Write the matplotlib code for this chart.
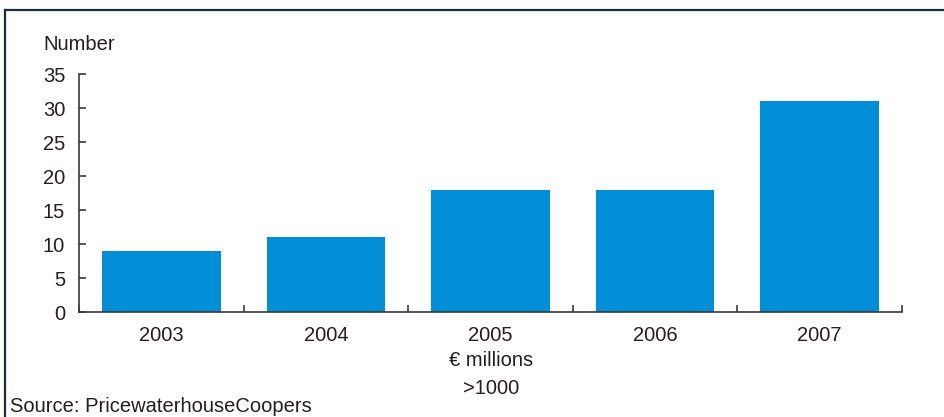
import matplotlib.pyplot as plt
from matplotlib.lines import Line2D
import numpy as np

# =========================
# DATA
# =========================
years = ["2003", "2004", "2005", "2006", "2007"]
deals = [9, 11, 18, 18, 31]
y_ticks = [0, 5, 10, 15, 20, 25, 30, 35]

# =========================
# STYLE
# =========================
plt.rcParams["font.family"] = ["Liberation Sans", "DejaVu Sans"]
text_col = "#231F20"
bar_col = "#008ED6"
axis_col = "#3A3A3A"
fs = 14.5

fig = plt.figure(figsize=(9.44, 4.17), dpi=100, facecolor="white")
ax = fig.add_axes([79 / 944, 1 - 312 / 417, (902 - 79) / 944, (312 - 74) / 417])

x = np.arange(len(years))
ax.bar(x, deals, width=0.72, color=bar_col, zorder=2)

ax.set_xlim(-0.5, len(years) - 0.5)
ax.set_ylim(0, 35)

# y axis
ax.set_yticks(y_ticks)
ax.tick_params(axis="y", direction="in", length=5, width=1.2, color=axis_col,
               labelsize=fs, labelcolor=text_col, pad=10)

# x axis: labels at centres, tick marks at category borders
ax.set_xticks(x)
ax.set_xticklabels(years)
ax.set_xticks(np.arange(len(years) + 1) - 0.5, minor=True)
ax.tick_params(axis="x", which="major", length=0, labelsize=fs,
               labelcolor=text_col, pad=10)
ax.tick_params(axis="x", which="minor", direction="in", length=5, width=1.2,
               color=axis_col)

for side in ["top", "right"]:
    ax.spines[side].set_visible(False)
for side in ["left", "bottom"]:
    ax.spines[side].set_color(axis_col)
    ax.spines[side].set_linewidth(1.2)

# titles
fig.text(43 / 944, 1 - 45 / 417, "Number", fontsize=fs, color=text_col,
         ha="left", va="center")
fig.text(491 / 944, 1 - 360 / 417, "€ millions", fontsize=fs, color=text_col,
         ha="center", va="center")
fig.text(491 / 944, 1 - 389 / 417, ">1000", fontsize=fs, color=text_col,
         ha="center", va="center")
fig.text(10 / 944, 1 - 406 / 417, "Source: PricewaterhouseCoopers", fontsize=fs,
         color=text_col, ha="left", va="center")

# frame lines (top and left)
border = "#1F2A44"
fig.add_artist(Line2D([4.5 / 944, 1.0], [1 - 9.5 / 417, 1 - 9.5 / 417],
                      color=border, lw=1.6, transform=fig.transFigure))
fig.add_artist(Line2D([4.5 / 944, 4.5 / 944], [1 - 9.5 / 417, 0.0],
                      color=border, lw=1.6, transform=fig.transFigure))

plt.savefig("out.png", dpi=100, facecolor="white")
plt.close()
